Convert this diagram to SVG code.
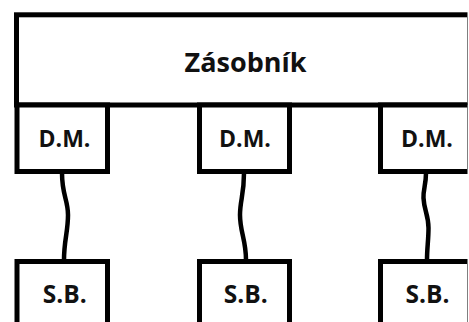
<svg xmlns="http://www.w3.org/2000/svg" width="469" height="322" viewBox="0 0 469 322">
  <style>
    .box { fill: #ffffff; stroke: #000000; stroke-width: 5; }
    .wire { fill: none; stroke: #000000; stroke-width: 4.5; stroke-linecap: butt; }
    .lbl { font-family: "Open Sans", "Noto Sans", "DejaVu Sans", sans-serif; font-weight: bold; fill: #111111; text-anchor: middle; }
  </style>
  <defs>
    <clipPath id="frame">
      <rect x="0" y="0" width="467.5" height="322"/>
    </clipPath>
  </defs>
  <rect x="0" y="0" width="469" height="322" fill="#ffffff"/>
  <g clip-path="url(#frame)">
    <g id="storage">
      <rect class="box" x="16.5" y="14.8" width="453" height="90.2"/>
      <text class="lbl" x="245.5" y="71.7" font-size="27">Zásobník</text>
    </g>
    <g id="dm1">
      <rect class="box" x="17" y="105" width="90.5" height="66.5"/>
      <text class="lbl" x="64.5" y="146.7" font-size="23">D.M.</text>
    </g>
    <g id="dm2">
      <rect class="box" x="199.5" y="105" width="90" height="66.5"/>
      <text class="lbl" x="245" y="146.7" font-size="23">D.M.</text>
    </g>
    <g id="dm3">
      <rect class="box" x="380.5" y="105" width="89" height="66.5"/>
      <text class="lbl" x="427" y="146.7" font-size="23">D.M.</text>
    </g>
    <g id="sb1">
      <rect class="box" x="17" y="261.5" width="90.5" height="80"/>
      <text class="lbl" x="64.7" y="303.3" font-size="24.5">S.B.</text>
    </g>
    <g id="sb2">
      <rect class="box" x="199.5" y="261.5" width="90" height="80"/>
      <text class="lbl" x="245.8" y="303.3" font-size="24.5">S.B.</text>
    </g>
    <g id="sb3">
      <rect class="box" x="380.5" y="261.5" width="89" height="80"/>
      <text class="lbl" x="427.5" y="303.3" font-size="24.5">S.B.</text>
    </g>
    <g id="connectors">
      <path class="wire" d="M62,173 C62,195 68,200 68,215 C68,232 64,240 64,260"/>
      <path class="wire" d="M244,173 C244,195 240,200 240,215 C240,232 246,240 246,260"/>
      <path class="wire" d="M426,173 C426,185 423,190 423.5,198 C424,210 428.5,215 428.5,228 C428.5,240 427,248 427,260"/>
    </g>
  </g>
</svg>
